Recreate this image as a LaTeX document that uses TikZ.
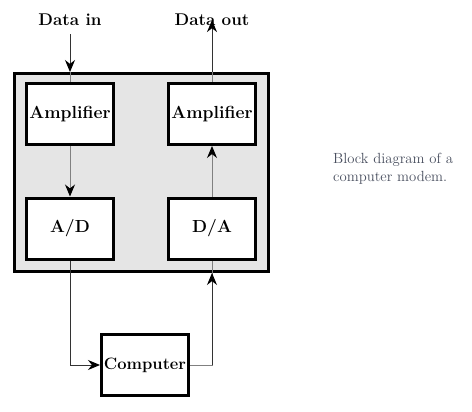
\documentclass[tikz,border=0pt]{standalone}
\usepackage{fontspec}
\usetikzlibrary{arrows.meta}
\definecolor{captiongrey}{RGB}{72,78,94}
\begin{document}
\begin{tikzpicture}[x=1pt,y=-1pt,
	block/.style={draw,line width=3pt,fill=white,minimum width=87pt,minimum height=61pt,inner sep=0pt,font=\fontsize{17.5}{20}\selectfont\bfseries},
	datatext/.style={inner sep=0pt,font=\fontsize{17}{20}\selectfont\bfseries},
	flow/.style={draw=black!80,line width=1pt,-{Stealth[length=12pt,width=10pt,color=black]}},
	inflow/.style={draw=black!50,line width=1pt,-{Stealth[length=12pt,width=10pt,color=black]}},
	inline/.style={draw=black!50,line width=1pt}]
		\useasboundingbox (0,0) rectangle (472,412);
		% modem housing
		\node[draw,line width=3pt,fill=black!10,minimum width=254pt,minimum height=198pt] (modem) at (141.5,172.5) {};
		\node[block] (ampin) at (70,114) {Amplifier};
		\node[block] (ampout) at (212,114) {Amplifier};
		\node[block] (adc) at (70,228.5) {A/D};
		\node[block] (dac) at (212,228.5) {D/A};
		\node[block,font=\fontsize{16.5}{20}\selectfont\bfseries] (comp) at (145,365) {Computer};
		\node[datatext] (datain) at (70,20) {Data in};
		\node[datatext] (dataout) at (212,20) {Data out};
		\node[inner sep=0pt,anchor=north west,align=left,text=captiongrey,font=\fontsize{14.7}{18}\selectfont] (caption) at (333,153) {Block diagram of a\\computer modem.};
		% data path
		\draw[flow] (datain.south) ++(0,8) -- (ampin.north |- modem.north);
		\draw[inline] (ampin.north |- modem.north) -- (ampin.north);
		\draw[inflow] (ampin) -- (adc);
		\draw[flow] (adc.south) |- (comp.west);
		\draw[inline] (comp.east) -| (dac.south |- modem.south);
		\draw[flow] (comp.east -| dac.south) -- (dac.south |- modem.south);
		\draw[inline] (dac.south |- modem.south) -- (dac.south);
		\draw[inflow] (dac) -- (ampout);
		\draw[inline] (ampout.north) -- (ampout.north |- modem.north);
		\draw[flow] (ampout.north |- modem.north) -- ([yshift=6pt]dataout.south);
\end{tikzpicture}
\end{document}
